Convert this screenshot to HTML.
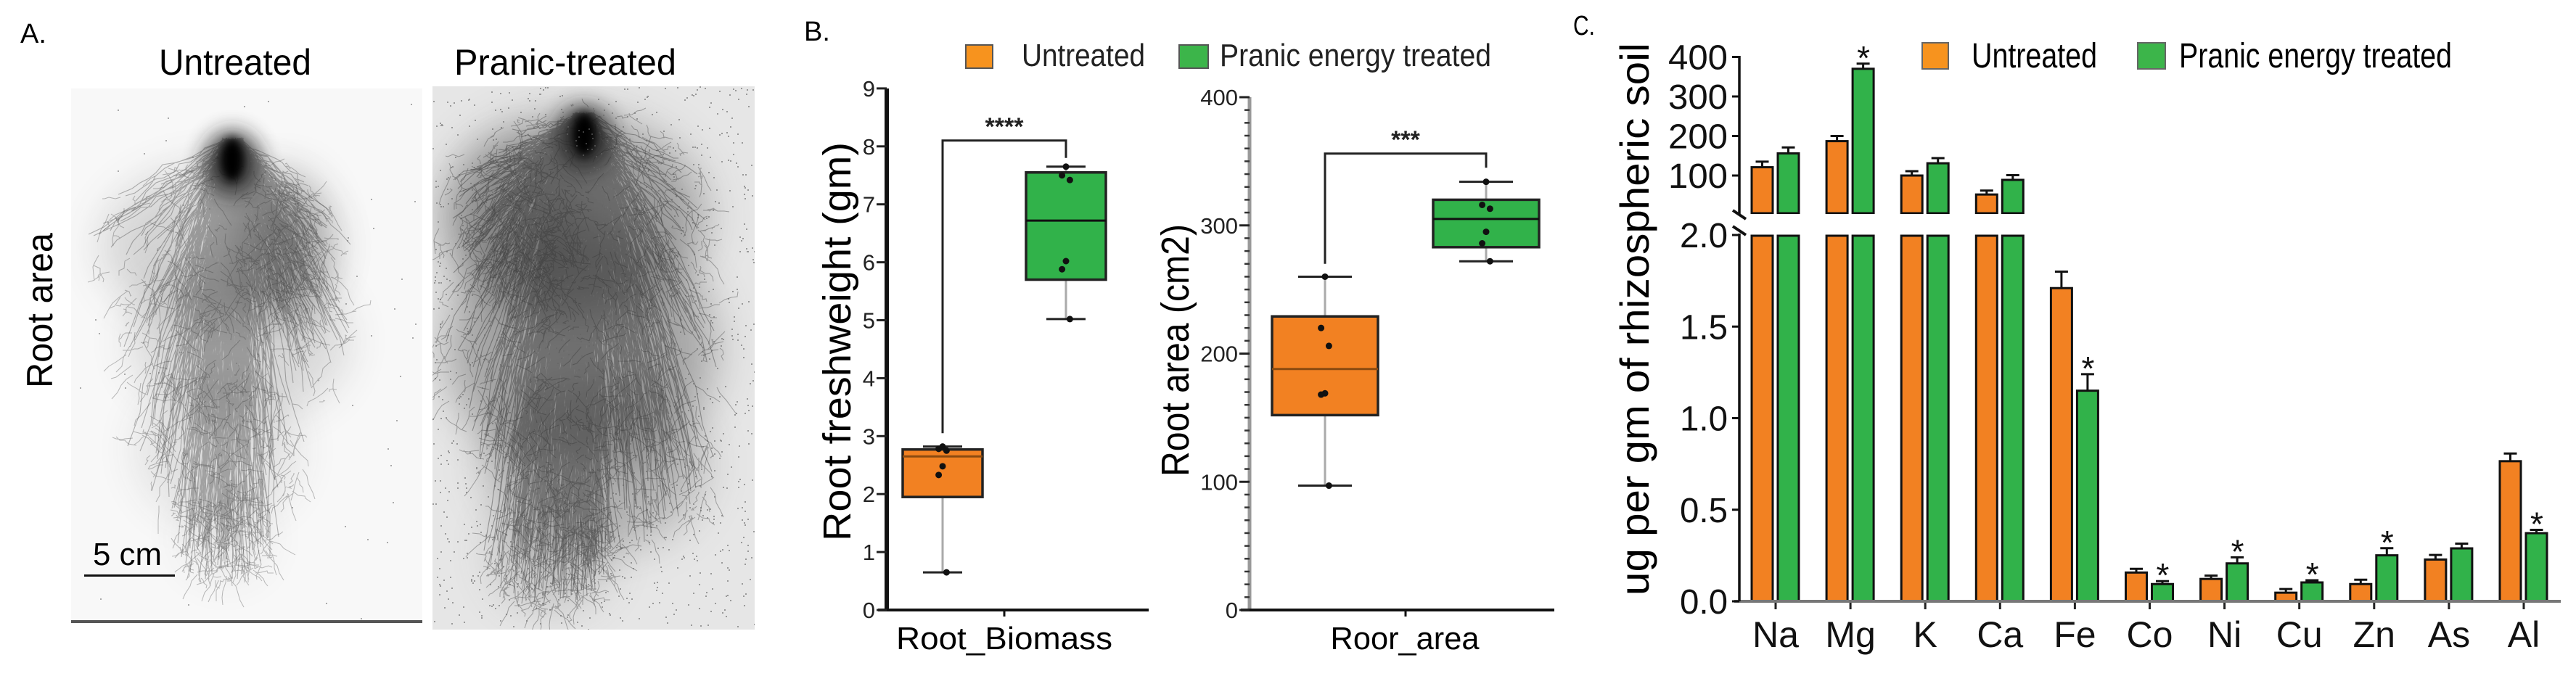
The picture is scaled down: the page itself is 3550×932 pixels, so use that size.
<!DOCTYPE html>
<html><head><meta charset="utf-8"><style>
html,body{margin:0;padding:0;background:#fff;}
svg{display:block;font-family:"Liberation Sans",Arial,sans-serif;}
</style></head><body>
<svg id="fig" width="3550" height="932" viewBox="0 0 3550 932" xmlns="http://www.w3.org/2000/svg">
<defs>
<filter id="blur6" x="-100%" y="-100%" width="300%" height="300%"><feGaussianBlur stdDeviation="6"/></filter>
<filter id="blur14" x="-100%" y="-100%" width="300%" height="300%"><feGaussianBlur stdDeviation="14"/></filter>
<filter id="blur25" x="-100%" y="-100%" width="300%" height="300%"><feGaussianBlur stdDeviation="30"/></filter>
<clipPath id="clipL"><rect x="98" y="122" width="484" height="737"/></clipPath>
<clipPath id="clipR"><rect x="596" y="119" width="444" height="749"/></clipPath>
</defs>
<!-- Panel A -->
<g id="panelA">
<text x="28" y="59" font-size="38">A.</text>
<text x="219" y="103" font-size="50" textLength="210" lengthAdjust="spacingAndGlyphs">Untreated</text>
<text x="626" y="103" font-size="50" textLength="306" lengthAdjust="spacingAndGlyphs">Pranic-treated</text>
<text transform="translate(72,428) rotate(-90)" text-anchor="middle" font-size="50" textLength="214" lengthAdjust="spacingAndGlyphs">Root area</text>
<rect x="98" y="122" width="484" height="737" fill="#f8f8f8"/>
<rect x="98" y="855" width="484" height="4" fill="#555"/>
<rect x="596" y="119" width="444" height="749" fill="#e6e6e6"/>
<g id="rootL" clip-path="url(#clipL)"></g>
<g id="rootR" clip-path="url(#clipR)"></g>
<text x="128" y="779" font-size="44" textLength="95" lengthAdjust="spacingAndGlyphs">5 cm</text>
<rect x="116" y="792" width="125" height="3" fill="#111"/>
</g>
<!-- Panel B -->
<g id="panelB">
<text x="1108" y="56" font-size="38">B.</text>
<rect x="1331" y="62" width="37" height="32" fill="#f7931e" stroke="#555" stroke-width="2"/>
<text x="1408" y="91" font-size="44" textLength="170" lengthAdjust="spacingAndGlyphs" fill="#222">Untreated</text>
<rect x="1625" y="62" width="40" height="32" fill="#3cb54a" stroke="#555" stroke-width="2"/>
<text x="1681" y="91" font-size="44" textLength="374" lengthAdjust="spacingAndGlyphs" fill="#222">Pranic energy treated</text>
<text transform="translate(1172,471) rotate(-90)" text-anchor="middle" font-size="54" textLength="550" lengthAdjust="spacingAndGlyphs">Root freshweight  (gm)</text>
<text transform="translate(1638,483) rotate(-90)" text-anchor="middle" font-size="54" textLength="348" lengthAdjust="spacingAndGlyphs">Root area (cm2)</text>
<text x="1384" y="895" text-anchor="middle" font-size="44" textLength="298" lengthAdjust="spacingAndGlyphs">Root_Biomass</text>
<text x="1936" y="895" text-anchor="middle" font-size="44" textLength="205" lengthAdjust="spacingAndGlyphs">Roor_area</text>
<g id="b1"></g><g id="b2"></g>
</g>
<!-- Panel C -->
<g id="panelC">
<text x="2168" y="48" font-size="38" textLength="30" lengthAdjust="spacingAndGlyphs">C.</text>
<rect x="2649" y="59" width="36" height="36" fill="#f7931e" stroke="#666" stroke-width="2"/>
<text x="2717" y="93" font-size="48" textLength="173" lengthAdjust="spacingAndGlyphs">Untreated</text>
<rect x="2946" y="59" width="38" height="36" fill="#3cb54a" stroke="#666" stroke-width="2"/>
<text x="3003" y="93" font-size="48" textLength="376" lengthAdjust="spacingAndGlyphs">Pranic energy treated</text>
<text transform="translate(2272,440) rotate(-90)" text-anchor="middle" font-size="56" textLength="762" lengthAdjust="spacingAndGlyphs">ug per gm of rhizospheric soil</text>
<g id="cchart"></g>
</g>
</svg>
<script>
// ---------- Panel B data ----------
const boxGroups = ["Untreated", "Pranic energy treated"];
const biomassStats = [[0.65, 1.95, 2.65, 2.77, 2.82], [5.02, 5.70, 6.72, 7.55, 7.65]];
const biomassPoints = [[2.82, 2.78, 2.75, 2.48, 2.33, 0.65], [7.65, 7.50, 7.42, 6.02, 5.88, 5.02]];
const areaStats = [[97, 152, 188, 229, 260], [272, 283, 305, 320, 334]];
const areaPoints = [[260, 220, 206, 169, 168, 97], [334, 316, 313, 295, 286, 272]];
const biomassTicks = ["0","1","2","3","4","5","6","7","8","9"];
const areaTicks = ["0","100","200","300","400"];
const biomassSig = "****";
const areaSig = "***";
// ---------- Panel C data ----------
const elements = ["Na","Mg","K","Ca","Fe","Co","Ni","Cu","Zn","As","Al"];
const untreated = [121, 187, 100, 52, 1.71, 0.157, 0.122, 0.047, 0.094, 0.228, 0.765];
const untreatedErr = [14, 13, 11, 10, 0.09, 0.02, 0.018, 0.02, 0.024, 0.025, 0.042];
const treated = [156, 370, 131, 89, 1.15, 0.094, 0.207, 0.103, 0.251, 0.289, 0.372];
const treatedErr = [15, 13, 13, 12, 0.09, 0.016, 0.033, 0.012, 0.039, 0.026, 0.018];
const significant = [0, 1, 0, 0, 1, 1, 1, 1, 1, 0, 1];
const upperTicks = ["100","200","300","400"];
const lowerTicks = ["0.0","0.5","1.0","1.5","2.0"];

const NS = "http://www.w3.org/2000/svg";
function mk(tag, attrs, parent){const e=document.createElementNS(NS,tag);for(const k in attrs)e.setAttribute(k,attrs[k]);parent.appendChild(e);return e;}
const ORANGE="#f28122", GREEN="#31b24a";

// ---------- Panel B drawing ----------
function drawBox(g, axisX, axisTop, axisEnd, y, tickVals, tickLabs, minor, stats, pts, centers, halfW, capW, sig, br, axisColor, axisW, nameBase){
  const ax = mk("line",{x1:axisX,y1:axisTop,x2:axisX,y2:841,stroke:axisColor,"stroke-width":axisW},g);
  
  
  const xa = mk("line",{x1:axisX-12,y1:841,x2:axisEnd,y2:841,stroke:"#111","stroke-width":4},g);
  
  
  const xt = mk("line",{x1:(centers[0]+centers[1])/2,y1:841,x2:(centers[0]+centers[1])/2,y2:850,stroke:"#111","stroke-width":3},g);
  
  
  if(minor){ for(let v=0; v<=tickVals[tickVals.length-1]; v+=minor){ const m=mk("line",{x1:axisX-7,y1:y(v),x2:axisX,y2:y(v),stroke:"#333","stroke-width":2.5},g);
    
     } }
  tickVals.forEach((v,i)=>{
    const t=mk("line",{x1:axisX-14,y1:y(v),x2:axisX,y2:y(v),stroke:"#222","stroke-width":3},g);
    
    
    const l=mk("text",{x:axisX-16,y:y(v)+11,"text-anchor":"end","font-size":31,fill:"#222"},g);
    l.textContent=tickLabs[i];
    
    
  });
  stats.forEach((s,gi)=>{
    const cx=centers[gi], col=gi?GREEN:ORANGE;
    const w=mk("line",{x1:cx,y1:y(s[0]),x2:cx,y2:y(s[4]),stroke:"#aaa","stroke-width":3},g);
    
    
    [s[0],s[4]].forEach(v=>{const c=mk("line",{x1:cx-capW,y1:y(v),x2:cx+capW,y2:y(v),stroke:"#222","stroke-width":3},g);
      
      });
    const b=mk("rect",{x:cx-halfW,y:y(s[3]),width:2*halfW,height:y(s[1])-y(s[3]),fill:col,stroke:"#222","stroke-width":3.5},g);
    
    
    const md=mk("line",{x1:cx-halfW,y1:y(s[2]),x2:cx+halfW,y2:y(s[2]),stroke:gi?"#111":"#8a4a10","stroke-width":3},g);
    
    
    pts[gi].forEach((v,pi)=>{
      const off = (pi%3===1? -9 : (pi%3===2? 9 : 0))*0.6;
      const p=mk("circle",{cx:cx+off,cy:y(v),r:4.5,fill:"#111"},g);
      
      
    });
  });
  const by=y(br[0]);
  const bl=mk("polyline",{points:`${centers[0]},${y(br[1])} ${centers[0]},${by} ${centers[1]},${by} ${centers[1]},${y(br[2])}`,fill:"none",stroke:"#222","stroke-width":3},g);
  
  
  const st=mk("text",{x:(centers[0]+centers[1])/2,y:by-8,"text-anchor":"middle","font-size":34,"font-weight":"bold",fill:"#222"},g);
  st.textContent=sig;
  
  
}
const yB1 = v => 841 - v*79.9;
const yB2 = v => 841 - v*1.7675;
drawBox(document.getElementById("b1"),1222,122,1583,yB1,[0,1,2,3,4,5,6,7,8,9],biomassTicks,0,biomassStats,biomassPoints,[1299,1469],55,27,biomassSig,[8.1,3.05,7.8],"#111",6,"biomass");
drawBox(document.getElementById("b2"),1722,134,2142,yB2,[0,100,200,300,400],areaTicks,10,areaStats,areaPoints,[1826,2048],73,37,areaSig,[356,270,345],"#999",5,"area");

// ---------- Panel C drawing ----------
const cg=document.getElementById("cchart");
const AX=2397, BRK=2;
const yU = v => 296.5 - v*0.545;
const yL = v => 829 - v*252.5;
const xC = i => 2447 + i*103.1;
function barRect(x, y1, y2, col, name){
  const r=mk("rect",{x:x,y:y1,width:29,height:y2-y1,fill:col,stroke:"#111","stroke-width":3},cg);
  
  
}
function errBar(cx, yTop, yBar){
  const l=mk("polyline",{points:`${cx},${yBar} ${cx},${yTop}`,stroke:"#111","stroke-width":3,fill:"none"},cg);
  
  
  const c=mk("line",{x1:cx-9,y1:yTop,x2:cx+9,y2:yTop,stroke:"#111","stroke-width":3},cg);
  
  
}
elements.forEach((el,i)=>{
  const t=xC(i);
  [[untreated,untreatedErr,t-33,ORANGE,'untreated'],[treated,treatedErr,t+3,GREEN,'treated']].forEach(([vals,errs,x,col,nm])=>{
    const v=vals[i], e=errs[i], cx=x+14.5;
    if(v>BRK){
      barRect(x,yL(BRK)+1,829,col,'bar-'+el+'-'+nm);
      barRect(x,yU(v),294,col,'bar-'+el+'-'+nm+'-upper');
      errBar(cx,yU(v+e),yU(v));
    } else {
      barRect(x,yL(v),829,col,'bar-'+el+'-'+nm);
      errBar(cx,yL(v+e),yL(v));
    }
  });
  if(significant[i]){
    const v=treated[i]+treatedErr[i];
    const yy=(v>BRK?yU(v):yL(v))-10;
    const s=mk("text",{x:t+18,y:yy+18,"text-anchor":"middle","font-size":46,fill:"#111"},cg);
    s.textContent="*";
    
    
  }
  const tk=mk("line",{x1:t,y1:829,x2:t,y2:840,stroke:"#222","stroke-width":3},cg);
  
  
  const lb=mk("text",{x:t,y:892,"text-anchor":"middle","font-size":50,fill:"#111"},cg);
  lb.textContent=el;
  
  
});
const gap=mk("rect",{x:2405,y:295,width:1120,height:27,fill:"#fff"},cg);


const xax=mk("line",{x1:2390,y1:829,x2:3529,y2:829,stroke:"#777","stroke-width":4},cg);


const ya1=mk("line",{x1:AX,y1:77,x2:AX,y2:297,stroke:"#111","stroke-width":3.5},cg);


const ya2=mk("line",{x1:AX,y1:322,x2:AX,y2:829,stroke:"#111","stroke-width":3.5},cg);


[[2388,290,2406,302],[2388,312,2406,324]].forEach(p=>{
  const s=mk("line",{x1:p[0],y1:p[1],x2:p[2],y2:p[3],stroke:"#111","stroke-width":4},cg);
  
  
});
[100,200,300,400].forEach((v,i)=>{
  const t=mk("line",{x1:AX-10,y1:yU(v),x2:AX,y2:yU(v),stroke:"#111","stroke-width":3},cg);
  
  
  const l=mk("text",{x:AX-16,y:yU(v)+17,"text-anchor":"end","font-size":48,textLength:82,lengthAdjust:"spacingAndGlyphs",fill:"#111"},cg);
  l.textContent=upperTicks[i];
  
  
});
[0,0.5,1,1.5,2].forEach((v,i)=>{
  const t=mk("line",{x1:AX-10,y1:yL(v),x2:AX,y2:yL(v),stroke:"#111","stroke-width":3},cg);
  
  
  const l=mk("text",{x:AX-16,y:yL(v)+17,"text-anchor":"end","font-size":48,textLength:66,lengthAdjust:"spacingAndGlyphs",fill:"#111"},cg);
  l.textContent=lowerTicks[i];
  
  
});

// ---------- Panel A root illustrations (procedural texture) ----------
let seed=12345;
function rnd(){seed=(seed*1103515245+12345)%2147483648;return seed/2147483648;}
function wiggle(sx,sy,ex,ey,steps,amp){
  let d=`M${sx.toFixed(0)},${sy.toFixed(0)}`;
  let ox=0;
  for(let s=1;s<=steps;s++){
    const f=s/steps;
    ox+= (rnd()-0.5)*amp;
    const bow=Math.sin(f*Math.PI)*(ex-sx)*0.25;
    const x=sx+(ex-sx)*Math.pow(f,0.8)+ox+bow*0, y=sy+(ey-sy)*f+(rnd()-0.5)*amp*0.5;
    d+=`L${x.toFixed(0)},${y.toFixed(0)}`;
  }
  return d;
}
function drawRoot(gid, top, lobes, nStrokes, hairs, fog, op, speckN, speckCol, rect){
  const g=document.getElementById(gid);
  
  
  lobes.forEach(L=>{ mk("ellipse",{cx:L[0],cy:L[1],rx:L[2],ry:L[3],fill:fog,opacity:L[4],filter:"url(#blur25)"},g); });
  let d="";
  for(let k=0;k<nStrokes;k++){
    const L=lobes[Math.floor(rnd()*lobes.length)];
    const a=rnd()*Math.PI*2, r=Math.sqrt(rnd());
    const ex=L[0]+Math.cos(a)*L[2]*r, ey=L[1]+Math.sin(a)*L[3]*r;
    const sx=top[0]+(rnd()-0.5)*30, sy=top[1]+20+rnd()*40;
    d+=wiggle(sx,sy,ex,ey,10,14);
  }
  mk("path",{d:d,fill:"none",stroke:"#222","stroke-width":1.1,opacity:op},g);
  let h="";
  for(let k=0;k<hairs;k++){
    const L=lobes[Math.floor(rnd()*lobes.length)];
    const a=rnd()*Math.PI*2, r=Math.sqrt(rnd())*1.1;
    const x=L[0]+Math.cos(a)*L[2]*r, y=L[1]+Math.sin(a)*L[3]*r;
    h+=wiggle(x,y,x+(rnd()-0.5)*60,y+(rnd()-0.3)*60,4,8);
  }
  mk("path",{d:h,fill:"none",stroke:"#333","stroke-width":1,opacity:op},g);
  mk("ellipse",{cx:top[0],cy:top[1]+55,rx:40,ry:45,fill:"#222",opacity:0.8,filter:"url(#blur14)"},g);
  mk("ellipse",{cx:top[0],cy:top[1]+50,rx:16,ry:30,fill:"#000",filter:"url(#blur6)"},g);
  let sd="";
  for(let k=0;k<speckN;k++){const x=rect[0]+rnd()*rect[2], y=rect[1]+rnd()*rect[3];sd+=`M${x.toFixed(0)},${y.toFixed(0)}h2v2h-2z`;}
  mk("path",{d:sd,fill:speckCol,opacity:0.6},g);
}
drawRoot("rootL",[320,170],[[300,340,160,110,0.18],[330,470,150,110,0.16],[300,620,110,100,0.12],[310,740,60,60,0.08],[390,340,60,100,0.35]],650,900,"#333",0.32,60,"#777",[98,122,484,737]);
drawRoot("rootR",[805,135],[[790,300,180,140,0.5],[800,480,185,170,0.45],[820,640,150,120,0.35],[760,760,80,80,0.25],[720,300,80,100,0.3]],1000,1400,"#555",0.38,1400,"#666",[596,119,444,749]);
</script>
</body></html>
